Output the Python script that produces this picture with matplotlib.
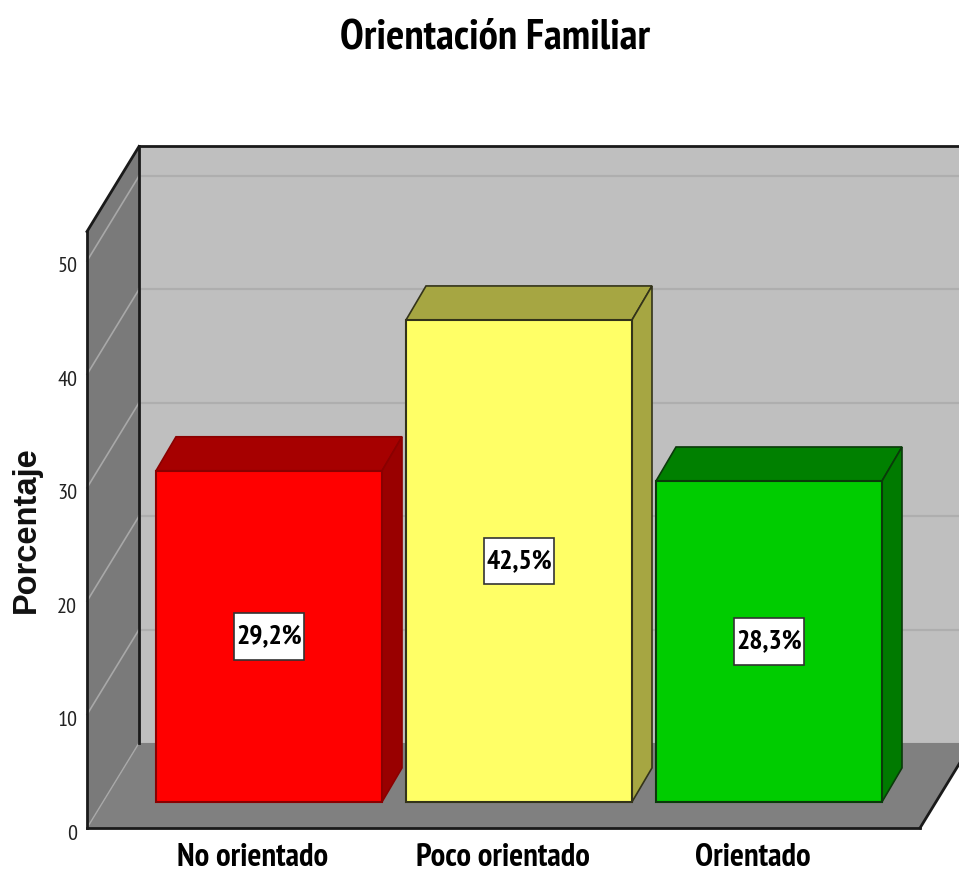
import matplotlib
matplotlib.use('Agg')
import matplotlib.pyplot as plt
from matplotlib.patches import Polygon, Rectangle
from matplotlib.transforms import ScaledTranslation

plt.rcParams['font.family'] = ['PT Sans Narrow', 'Asap Condensed', 'Liberation Sans', 'DejaVu Sans']

categories = ['No orientado', 'Poco orientado', 'Orientado']
values = [29.2, 42.5, 28.3]
labels = ['29,2%', '42,5%', '28,3%']
face_colors = ['#ff0000', '#ffff66', '#00cc00']
top_colors = ['#a60000', '#a6a642', '#008000']
side_colors = ['#990000', '#a6a642', '#007a00']
edge_colors = ['#8a0000', '#33331a', '#0a3a0a']
y_ticks = [0, 10, 20, 30, 40, 50]

# caja 3D, en unidades de los ejes
WALL_TOP = 52.6
DX, DY = 0.208, 7.5
BAR_W = 0.904
BAR_DX, BAR_DY = 0.08, 3.0
BASE = 2.3
LEFT, RIGHT = -0.728, 2.604
BOX_W, BOX_H = 0.28, 4.1

fig = plt.figure(figsize=(9.59, 8.75), dpi=100)
ax = fig.add_axes([87 / 959, 47 / 875, 833 / 959, 567 / 875])
ax.set_xlim(LEFT, RIGHT)
ax.set_ylim(0, 50)
for s in ax.spines.values():
    s.set_visible(False)
ax.patch.set_visible(False)


def poly(pts, fc, ec='none', lw=0, z=1):
    ax.add_patch(Polygon(pts, closed=True, facecolor=fc, edgecolor=ec, linewidth=lw,
                         zorder=z, clip_on=False, joinstyle='miter'))


# paredes y suelo
top = WALL_TOP + DY
poly([(LEFT + DX, DY), (RIGHT + DX, DY), (RIGHT + DX, top), (LEFT + DX, top)], '#bfbfbf')
poly([(LEFT, 0), (LEFT + DX, DY), (LEFT + DX, top), (LEFT, WALL_TOP)], '#7a7a7a')
poly([(LEFT, 0), (RIGHT, 0), (RIGHT + DX, DY), (LEFT + DX, DY)], '#808080')

for t in y_ticks[1:]:
    ax.plot([LEFT + DX, RIGHT + DX], [t + DY, t + DY], color='#aeaeae', lw=1.6, zorder=2, clip_on=False)
    ax.plot([LEFT, LEFT + DX], [t, t + DY], color='#a8a8a8', lw=1.2, zorder=2, clip_on=False)
ax.plot([LEFT, LEFT + DX], [0, DY], color='#a8a8a8', lw=1.0, zorder=2, clip_on=False)

line = dict(color='#1a1a1a', lw=2.0, zorder=3, clip_on=False, solid_capstyle='projecting')
ax.plot([LEFT, LEFT], [0, WALL_TOP], **line)
ax.plot([LEFT + DX, LEFT + DX], [DY, top], **line)
ax.plot([LEFT, LEFT + DX], [WALL_TOP, top], **line)
ax.plot([LEFT + DX, RIGHT + DX], [top, top], **line)
ax.plot([LEFT, RIGHT], [0, 0], **line)
ax.plot([RIGHT, RIGHT + DX], [0, DY], **line)

# barras
for i, v in enumerate(values):
    x0, x1 = i - BAR_W / 2, i + BAR_W / 2
    y1 = BASE + v
    poly([(x0, y1), (x1, y1), (x1 + BAR_DX, y1 + BAR_DY), (x0 + BAR_DX, y1 + BAR_DY)],
         top_colors[i], edge_colors[i], 1.2, 4)
    poly([(x1, BASE), (x1 + BAR_DX, BASE + BAR_DY), (x1 + BAR_DX, y1 + BAR_DY), (x1, y1)],
         side_colors[i], edge_colors[i], 1.2, 4)
    ax.bar(i, v, BAR_W, bottom=BASE, color=face_colors[i], edgecolor=edge_colors[i],
           linewidth=1.5, zorder=5, clip_on=False)
    ym = BASE + v / 2
    ax.add_patch(Rectangle((i - BOX_W / 2, ym - BOX_H / 2), BOX_W, BOX_H, facecolor='white',
                           edgecolor='#333333', linewidth=1.2, zorder=6))
    ax.text(i, ym, labels[i], ha='center', va='center', fontsize=20,
            fontweight='bold', color='black', zorder=7)

ax.set_yticks(y_ticks)
ax.tick_params(axis='y', length=0, pad=7, labelsize=16, labelcolor='#222222')
shift = ScaledTranslation(0, -4 / 100, fig.dpi_scale_trans)
for lab in ax.get_yticklabels():
    lab.set_transform(lab.get_transform() + shift)
ax.set_xticks([i - 0.066 for i in range(len(categories))])
ax.set_xticklabels(categories, fontsize=23.5, fontweight='bold')
ax.tick_params(axis='x', length=0, pad=10.5)

fig.text(26 / 959, 1 - 530 / 875, 'Porcentaje', rotation=90, ha='center', va='center',
         fontsize=23.5, fontweight='bold', family=['Liberation Sans', 'DejaVu Sans'], color='#111111')
fig.text(495 / 959, 1 - 38 / 875, 'Orientación Familiar', ha='center', va='center',
         fontsize=31, fontweight='bold', color='black')

fig.savefig('out.png', dpi=100)
